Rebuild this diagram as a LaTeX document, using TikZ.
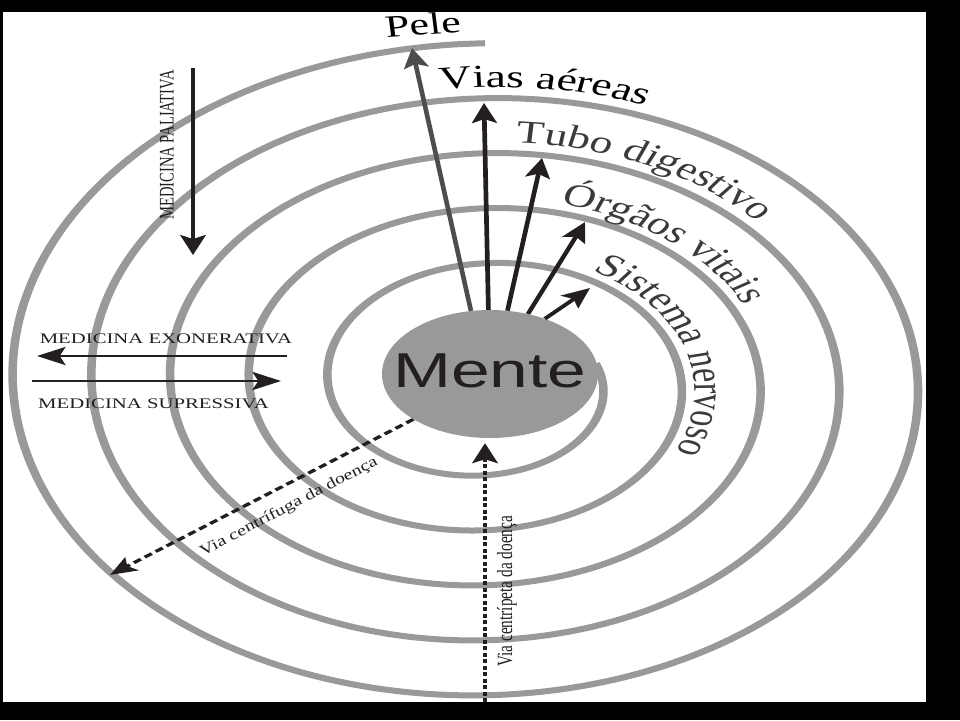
\documentclass[tikz,border=0pt]{standalone}
\usepackage{fontspec}
\setmainfont{Liberation Serif}
\newfontfamily\mentesans{Liberation Sans}
\usetikzlibrary{arrows.meta,shapes.geometric,decorations.text}
\definecolor{ringgray}{HTML}{999999}
\definecolor{ink}{HTML}{231F20}
\definecolor{labgray}{HTML}{3A3A3A}
\definecolor{pelegray}{HTML}{4D4D4D}
\newcommand{\labfont}{\fontsize{32}{32}\selectfont}
\tikzset{
  ringline/.style={draw=ringgray, line width=6pt},
  mentebox/.style={ellipse, fill=ringgray, minimum width=152.1pt, minimum height=128pt, inner sep=0pt},
  mentelabel/.style={font=\mentesans\fontsize{49}{49}\selectfont, text=ink, inner sep=0pt},
  organarrow/.style={draw=ink, line width=3.3pt, -{Stealth[length=20pt,width=17.5pt,inset=4pt]}},
  medarrow/.style={draw=ink, line width=2.8pt, -{Stealth[length=20pt,width=18pt,inset=4pt]}},
  medtext/.style={font=\fontsize{14.6}{14.6}\selectfont, text=ink, inner sep=0pt},
  viatext/.style={font=\fontsize{15.3}{15.3}\selectfont, text=ink, inner sep=0pt},
  fugdash/.style={draw=ink, line width=3pt, dash pattern=on 6pt off 3.5pt, -{Stealth[length=19pt,width=16pt,inset=4pt]}},
  petdash/.style={draw=ink, line width=2.8pt, dash pattern=on 4pt off 2.5pt, -{Stealth[length=20pt,width=18pt,inset=4pt]}},
}
\begin{document}
\begin{tikzpicture}[x=1pt,y=-1pt]
\useasboundingbox (0,0) rectangle (960,720);
\fill[black] (0,0) rectangle (960,720);
\fill[white] (3,12) rectangle (926,702);
\begin{scope}[transform canvas={xscale=1.42}, x=0.704225pt, y=-1pt]
  % spiral
  \draw[ringline] plot[smooth, domain=-15:1710, samples=500, variable=\t]
    ({485+(117.8+0.2188*\t)*cos(\t)}, {383+(78.5+0.1528*\t)*sin(\t)});
  % centre
  \node[mentebox, label={[mentelabel, yshift=3pt]center:Mente}] (Mente) at (490,374) {};
  % tips on the rings
  \coordinate (tipPele) at (412,48);
  \coordinate (tipVias) at (484,103);
  \coordinate (tipTubo) at (542,158);
  \coordinate (tipOrg) at (585,222);
  \coordinate (tipSis) at (590,288);
  \draw[organarrow, draw=pelegray] (Mente.102.4) -- (tipPele);
  \draw[organarrow] (Mente.91.3) -- (tipVias);
  \draw[organarrow] (Mente.79.4) -- (tipTubo);
  \draw[organarrow] (Mente.66.9) -- (tipOrg);
  \draw[organarrow] (Mente.55.4) -- (tipSis);
  % ring labels
  \node[font=\fontsize{31}{31}\selectfont, text=black, rotate=5, anchor=base, inner sep=0pt] (peleText) at (424,35) {Pele};
  \path[decorate, decoration={text along path, text={|\labfont\color{black}|Vias aéreas}}]
    plot[smooth, domain=1344:1420, samples=40, variable=\t]
    ({485+(131.8+0.2188*\t)*cos(\t)}, {383+(89.5+0.1528*\t)*sin(\t)});
  \path[decorate, decoration={text along path, text={|\labfont\color{labgray}|Tubo digestivo}}]
    plot[smooth, domain=995:1085, samples=40, variable=\t]
    ({485+(131.8+0.2188*\t)*cos(\t)}, {383+(89.5+0.1528*\t)*sin(\t)});
  \path[decorate, decoration={text along path, text={|\labfont\color{labgray}|Órgãos vitais}}]
    plot[smooth, domain=646:745, samples=40, variable=\t]
    ({485+(130.8+0.2188*\t)*cos(\t)}, {383+(87.5+0.1528*\t)*sin(\t)});
  \path[decorate, decoration={text along path, text={|\labfont\color{labgray}|Sistema nervoso}}]
    plot[smooth, domain=303:425, samples=40, variable=\t]
    ({485+(130.8+0.2188*\t)*cos(\t)}, {383+(87.5+0.1528*\t)*sin(\t)});
  % medicine arrows
  \coordinate (palTop) at (193,68);
  \coordinate (palTip) at (193,255);
  \draw[medarrow] (palTop) -- (palTip);
  \node[medtext, rotate=90] (palText) at (167,145) {MEDICINA PALIATIVA};
  \coordinate (exoStart) at (287,356);
  \coordinate (exoTip) at (37,356);
  \draw[medarrow] (exoStart) -- (exoTip);
  \node[medtext, anchor=base] (exoText) at (166,343) {MEDICINA EXONERATIVA};
  \coordinate (supStart) at (32,381);
  \coordinate (supTip) at (281,381);
  \draw[medarrow] (supStart) -- (supTip);
  \node[medtext, anchor=base] (supText) at (153.5,408) {MEDICINA SUPRESSIVA};
  % disease pathways
  \coordinate (fugTip) at (110,575);
  \draw[fugdash] (Mente.220.4) -- (fugTip);
  \coordinate (petStart) at (485,702);
  \draw[petdash, shorten >=5pt] (petStart) -- (petStart |- Mente.south)
    node[viatext, pos=0.42, sloped, below=7pt] (petText) {Via centrípeta da doença};
\end{scope}
% label of the centrifugal path, set without the horizontal stretch
\node[viatext, rotate=27.6] (fugText) at (289,507) {\scalebox{1.3}[1]{Via centrífuga da doença}};
\end{tikzpicture}
\end{document}
